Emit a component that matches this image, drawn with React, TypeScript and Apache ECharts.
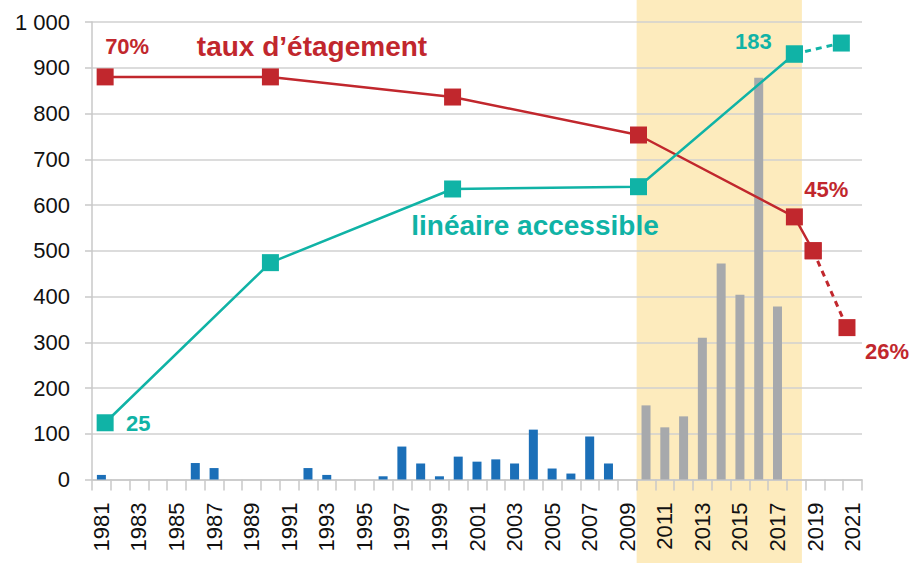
import React, { useEffect, useRef } from "react";
import * as echarts from "echarts";

const years: string[] = [];
for (let y = 1981; y <= 2021; y++) years.push(String(y));

const blueYears = [1981, 1986, 1987, 1992, 1993, 1996, 1997, 1998, 1999, 2000, 2001, 2002, 2003, 2004, 2005, 2006, 2007, 2008];
const blueValues = [10, 36, 25, 25, 10, 7, 72, 35, 7, 50, 39, 44, 35, 109, 24, 13, 94, 35];
const grayYears = [2010, 2011, 2012, 2013, 2014, 2015, 2016, 2017];
const grayValues = [162, 114, 138, 310, 472, 404, 878, 378];

// taux d'étagement (red)
const redX = [1981.2, 1990, 1999.7, 2009.6, 2017.9, 2018.9];
const redY = [880, 880, 836, 753, 574, 500];
const redDashX = [2018.9, 2020.7];
const redDashY = [500, 332];

// linéaire accessible (teal)
const tealX = [1981.2, 1990, 1999.7, 2009.6, 2017.9];
const tealY = [124, 474, 635, 640, 930];
const tealDashX = [2017.9, 2020.4];
const tealDashY = [930, 954];

const shadeRange = [2009.5, 2018.3];

const yTicks = { min: 0, max: 1000, interval: 100 };

const RED = "#c1272d";
const TEAL = "#10b3a6";
const BLUE = "#1b6fb8";
const GRAY = "#a7a9ac";
const SHADE = "#fdebbd";
const FONT = "'Liberation Sans', Arial, Helvetica, sans-serif";

function toCat(ys: number[], vs: number[]) {
  return years.map((y) => {
    const i = ys.indexOf(Number(y));
    return i >= 0 ? vs[i] : null;
  });
}

export default function App() {
  const ref = useRef<HTMLDivElement>(null);
  useEffect(() => {
    if (!ref.current) return;
    const chart = echarts.init(ref.current, undefined, { renderer: "svg" });
    const lbl = (text: string, color: string, dx: number, dy: number) => ({
      show: true,
      position: "inside",
      formatter: text,
      offset: [dx, dy],
      color,
      fontSize: 22,
      fontWeight: "bold",
      fontFamily: FONT,
    });
    const redData: any[] = redX.map((x, i) => [x, redY[i]]);
    redData[0] = { value: redData[0], label: lbl("70%", RED, 22, -30) };
    redData[4] = { value: redData[4], label: lbl("45%", RED, 32, -27) };
    const redDash: any[] = redDashX.map((x, i) => [x, redDashY[i]]);
    redDash[1] = { value: redDash[1], label: lbl("26%", RED, 40, 24) };
    const tealData: any[] = tealX.map((x, i) => [x, tealY[i]]);
    tealData[0] = { value: tealData[0], label: lbl("25", TEAL, 33, 1) };
    tealData[4] = { value: tealData[4], label: lbl("183", TEAL, -41, -13) };
    const tealDash: any[] = tealDashX.map((x, i) => [x, tealDashY[i]]);

    chart.setOption({
      animation: false,
      grid: { left: 92, right: 50, top: 22, bottom: 83.5, containLabel: false },
      xAxis: [
        {
          type: "category",
          data: years,
          boundaryGap: true,
          axisLine: { lineStyle: { color: "#c8c8c8", width: 1.5 } },
          axisTick: { show: true, interval: 0, length: 11, lineStyle: { color: "#c8c8c8", width: 1.5 } },
          axisLabel: { interval: 1, rotate: 90, margin: 23, fontSize: 22, color: "#111", fontFamily: FONT },
          splitLine: { show: false },
        },
        {
          type: "value",
          min: 1980.5,
          max: 2021.5,
          show: false,
          splitLine: { show: false },
        },
      ],
      yAxis: {
        type: "value",
        min: yTicks.min,
        max: yTicks.max,
        interval: yTicks.interval,
        axisLine: { show: true, lineStyle: { color: "#c8c8c8", width: 1.5 } },
        axisTick: { show: true, length: 7, lineStyle: { color: "#c8c8c8", width: 1.5 } },
        axisLabel: {
          margin: 22,
          fontSize: 22,
          color: "#111",
          fontFamily: FONT,
          formatter: (v: number) => (v >= 1000 ? String(v).replace(/(\d)(?=(\d{3})+$)/g, "$1 ") : String(v)),
        },
        splitLine: { lineStyle: { color: "#d0d0d0", width: 1.5 } },
      },
      series: [
        {
          type: "custom",
          xAxisIndex: 1,
          z: -1,
          silent: true,
          clip: false,
          data: [[shadeRange[0], shadeRange[1]]],
          encode: { x: [0, 1] },
          renderItem: (params: any, api: any) => {
            const x0 = api.coord([api.value(0), 0])[0];
            const x1 = api.coord([api.value(1), 0])[0];
            return {
              type: "rect",
              shape: { x: x0, y: 0, width: x1 - x0, height: api.getHeight() },
              style: { fill: SHADE },
            };
          },
        },
        {
          type: "bar",
          stack: "b",
          barWidth: 9,
          data: toCat(blueYears, blueValues),
          itemStyle: { color: BLUE },
        },
        {
          type: "bar",
          stack: "b",
          barWidth: 9,
          data: toCat(grayYears, grayValues),
          itemStyle: { color: GRAY },
        },
        {
          type: "line",
          xAxisIndex: 1,
          data: redData,
          symbol: "rect",
          symbolSize: 17,
          z: 5,
          lineStyle: { color: RED, width: 2.5 },
          itemStyle: { color: RED },
        },
        {
          type: "line",
          xAxisIndex: 1,
          data: redDash,
          symbol: "rect",
          symbolSize: 17,
          z: 5,
          lineStyle: { color: RED, width: 3, type: [6, 5] },
          itemStyle: { color: RED },
        },
        {
          type: "line",
          xAxisIndex: 1,
          data: tealData,
          symbol: "rect",
          symbolSize: 17,
          z: 6,
          lineStyle: { color: TEAL, width: 2.5 },
          itemStyle: { color: TEAL },
        },
        {
          type: "line",
          xAxisIndex: 1,
          data: tealDash,
          symbol: "rect",
          symbolSize: 17,
          z: 6,
          lineStyle: { color: TEAL, width: 3, type: [6, 5] },
          itemStyle: { color: TEAL },
        },
      ],
      graphic: [
        {
          type: "text",
          x: 312,
          y: 46,
          z: 10,
          style: {
            text: "taux d’étagement",
            fill: RED,
            font: `bold 28px ${FONT}`,
            align: "center",
            verticalAlign: "middle",
          },
        },
        {
          type: "text",
          x: 535,
          y: 225,
          z: 10,
          style: {
            text: "linéaire accessible",
            fill: TEAL,
            font: `bold 28px ${FONT}`,
            align: "center",
            verticalAlign: "middle",
          },
        },
      ],
    });
    return () => chart.dispose();
  }, []);
  return <div ref={ref} style={{ width: 912, height: 563, position: "absolute", left: 0, top: 0 }} />;
}
